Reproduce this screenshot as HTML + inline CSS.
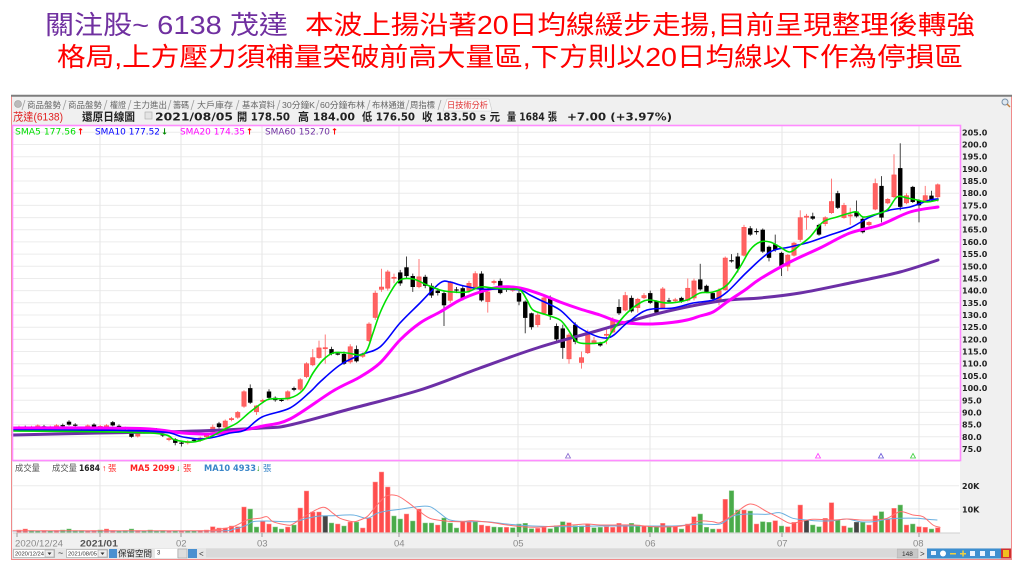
<!DOCTYPE html>
<html><head><meta charset="utf-8">
<style>
html,body{margin:0;padding:0;background:#fff;width:1023px;height:575px;overflow:hidden}
svg{display:block}
.cj{font-family:"Liberation Sans","Noto Sans CJK TC",sans-serif}
.dv{font-family:"DejaVu Sans","Noto Sans CJK TC",sans-serif}
</style></head>
<body>
<svg id="s" width="1023" height="575" viewBox="0 0 1023 575" xmlns="http://www.w3.org/2000/svg">
<rect width="1023" height="575" fill="#fff"/>
<g class="cj" font-size="26">
<text x="45" y="34" fill="#7030a0" textLength="243" lengthAdjust="spacingAndGlyphs">關注股~ 6138 茂達</text>
<text x="305" y="34" fill="#ff0000" textLength="670" lengthAdjust="spacingAndGlyphs">本波上揚沿著20日均線緩步走揚,目前呈現整理後轉強</text>
<text x="57" y="66" fill="#ff0000" textLength="906" lengthAdjust="spacingAndGlyphs">格局,上方壓力須補量突破前高大量區,下方則以20日均線以下作為停損區</text>
</g>
<rect x="11.5" y="95.5" width="1000" height="464" fill="#f0f0f0" stroke="#f08a8a" stroke-width="1"/>
<line x1="11" y1="95.8" x2="1012" y2="95.8" stroke="#7d7d7d" stroke-width="2"/>
<circle cx="18" cy="104" r="3.5" fill="#bbb" stroke="#999" stroke-width="0.6"/>
<path d="M443 111 L447 99 L489 99 L492 111 Z" fill="#fafafa" stroke="#c8c8c8" stroke-width="0.6"/>
<g stroke="#a0a0a0" stroke-width="0.8">
<line x1="63" y1="110" x2="66" y2="100"/><line x1="104" y1="110" x2="107" y2="100"/><line x1="128" y1="110" x2="131" y2="100"/><line x1="168" y1="110" x2="171" y2="100"/><line x1="191" y1="110" x2="194" y2="100"/><line x1="236" y1="110" x2="239" y2="100"/><line x1="277" y1="110" x2="280" y2="100"/><line x1="316" y1="110" x2="319" y2="100"/><line x1="367" y1="110" x2="370" y2="100"/><line x1="406" y1="110" x2="409" y2="100"/><line x1="438" y1="110" x2="441" y2="100"/><line x1="22" y1="110" x2="25" y2="100"/>
</g>
<g class="cj" font-size="8.5" fill="#666">
<text x="27" y="108" textLength="34" lengthAdjust="spacingAndGlyphs">商品盤勢</text>
<text x="68" y="108" textLength="34" lengthAdjust="spacingAndGlyphs">商品盤勢</text>
<text x="110" y="108" textLength="16" lengthAdjust="spacingAndGlyphs">權證</text>
<text x="133" y="108" textLength="34" lengthAdjust="spacingAndGlyphs">主力進出</text>
<text x="173" y="108" textLength="16" lengthAdjust="spacingAndGlyphs">籌碼</text>
<text x="197" y="108" textLength="36" lengthAdjust="spacingAndGlyphs">大戶庫存</text>
<text x="242" y="108" textLength="33" lengthAdjust="spacingAndGlyphs">基本資料</text>
<text x="282" y="108" textLength="33" lengthAdjust="spacingAndGlyphs">30分鐘K</text>
<text x="320" y="108" textLength="45" lengthAdjust="spacingAndGlyphs">60分鐘布林</text>
<text x="372" y="108" textLength="33" lengthAdjust="spacingAndGlyphs">布林通道</text>
<text x="410" y="108" textLength="25" lengthAdjust="spacingAndGlyphs">周指標</text>
<text x="447" y="108" fill="#e03030" textLength="41" lengthAdjust="spacingAndGlyphs">日技術分析</text>
</g>
<circle cx="1005" cy="102" r="3" fill="#dfe8f0" stroke="#7890a8" stroke-width="1"/>
<line x1="1007" y1="104" x2="1010" y2="107" stroke="#c08040" stroke-width="1.4"/>
<text class="cj" x="13" y="120.5" font-size="11" fill="#e02020" textLength="50" lengthAdjust="spacingAndGlyphs">茂達(6138)</text>
<g class="dv" font-size="11" font-weight="bold" fill="#222">
<text x="82" y="120.5" textLength="53" lengthAdjust="spacingAndGlyphs">還原日線圖</text>
<text x="155" y="120.5" textLength="78" lengthAdjust="spacingAndGlyphs">2021/08/05</text>
<text x="237" y="120.5" textLength="53" lengthAdjust="spacingAndGlyphs">開 178.50</text>
<text x="298" y="120.5" textLength="57" lengthAdjust="spacingAndGlyphs">高 184.00</text>
<text x="362" y="120.5" textLength="53" lengthAdjust="spacingAndGlyphs">低 176.50</text>
<text x="422" y="120.5" textLength="78" lengthAdjust="spacingAndGlyphs">收 183.50 s 元</text>
<text x="507" y="120.5" textLength="50" lengthAdjust="spacingAndGlyphs">量 1684 張</text>
<text x="567" y="120.5" textLength="105" lengthAdjust="spacingAndGlyphs">+7.00 (+3.97%)</text>
</g>
<rect x="145" y="112" width="7" height="7" fill="#e4e4e4" stroke="#aaa" stroke-width="0.6"/>
<rect x="13" y="126" width="947" height="334" fill="#fff"/>
<rect x="13" y="462" width="947" height="71" fill="#fff"/>
<g id="gen"></g>
<rect x="12.5" y="125.5" width="948" height="335" fill="none" stroke="#ff8cff" stroke-width="1.6"/>
<line x1="13" y1="533" x2="960" y2="533" stroke="#cfcfcf"/>
<g class="dv" font-size="8.5">
<text x="15" y="134.5" fill="#00dd00" textLength="61" lengthAdjust="spacingAndGlyphs">SMA5 177.56</text>
<text x="77" y="134.5" fill="#ff0000" font-weight="bold">↑</text>
<text x="95" y="134.5" fill="#0000ff" textLength="65" lengthAdjust="spacingAndGlyphs">SMA10 177.52</text>
<text x="161" y="134.5" fill="#008800" font-weight="bold">↓</text>
<text x="180" y="134.5" fill="#ff00ff" textLength="65" lengthAdjust="spacingAndGlyphs">SMA20 174.35</text>
<text x="246" y="134.5" fill="#ff0000" font-weight="bold">↑</text>
<text x="265" y="134.5" fill="#7030a0" textLength="65" lengthAdjust="spacingAndGlyphs">SMA60 152.70</text>
<text x="331" y="134.5" fill="#ff0000" font-weight="bold">↑</text>
</g>
<g class="dv" font-size="8" font-weight="bold" fill="#222">
<text x="962" y="135.3">205.0</text><text x="962" y="147.5">200.0</text><text x="962" y="159.7">195.0</text><text x="962" y="171.8">190.0</text><text x="962" y="184.0">185.0</text><text x="962" y="196.2">180.0</text><text x="962" y="208.4">175.0</text><text x="962" y="220.6">170.0</text><text x="962" y="232.7">165.0</text><text x="962" y="244.9">160.0</text><text x="962" y="257.1">155.0</text><text x="962" y="269.3">150.0</text><text x="962" y="281.5">145.0</text><text x="962" y="293.6">140.0</text><text x="962" y="305.8">135.0</text><text x="962" y="318.0">130.0</text><text x="962" y="330.2">125.0</text><text x="962" y="342.4">120.0</text><text x="962" y="354.5">115.0</text><text x="962" y="366.7">110.0</text><text x="962" y="378.9">105.0</text><text x="962" y="391.1">100.0</text><text x="962" y="403.3">95.0</text><text x="962" y="415.4">90.0</text><text x="962" y="427.6">85.0</text><text x="962" y="439.8">80.0</text><text x="962" y="452.0">75.0</text>
<text x="962" y="489">20K</text><text x="962" y="512.3">10K</text>
</g>
<g class="cj" font-size="8.5">
<text x="15" y="471" fill="#555" textLength="25" lengthAdjust="spacingAndGlyphs">成交量</text>
<text x="52" y="471" fill="#555" textLength="25" lengthAdjust="spacingAndGlyphs">成交量</text>
<text class="dv" x="79" y="471" fill="#222" font-weight="bold" textLength="21" lengthAdjust="spacingAndGlyphs">1684</text>
<text x="102" y="471" fill="#ff0000" font-weight="bold">↑</text>
<text x="108" y="471" fill="#ff3030">張</text>
<text class="dv" x="130" y="471" fill="#ff2020" font-weight="bold" textLength="45" lengthAdjust="spacingAndGlyphs">MA5 2099</text>
<text x="176" y="471" fill="#008800" font-weight="bold">↓</text>
<text x="183" y="471" fill="#ff3030">張</text>
<text class="dv" x="204" y="471" fill="#3a86c8" font-weight="bold" textLength="52" lengthAdjust="spacingAndGlyphs">MA10 4933</text>
<text x="256" y="471" fill="#008800" font-weight="bold">↓</text>
<text x="263" y="471" fill="#3a86c8">張</text>
</g>
<g stroke="#999" stroke-width="1">
<line x1="17" y1="533" x2="17" y2="537"/><line x1="100" y1="533" x2="100" y2="537"/><line x1="181" y1="533" x2="181" y2="537"/><line x1="262" y1="533" x2="262" y2="537"/><line x1="399" y1="533" x2="399" y2="537"/><line x1="518" y1="533" x2="518" y2="537"/><line x1="650" y1="533" x2="650" y2="537"/><line x1="782" y1="533" x2="782" y2="537"/><line x1="919" y1="533" x2="919" y2="537"/>
</g>
<g class="cj" font-size="9.5" fill="#8a8a8a">
<text x="15" y="546.5" textLength="48" lengthAdjust="spacingAndGlyphs">2020/12/24</text>
<text x="80" y="546.5" fill="#555" font-weight="bold" textLength="38" lengthAdjust="spacingAndGlyphs">2021/01</text>
<text x="176" y="546.5">02</text><text x="257" y="546.5">03</text><text x="394" y="546.5">04</text><text x="513" y="546.5">05</text><text x="645" y="546.5">06</text><text x="777" y="546.5">07</text><text x="913" y="546.5">08</text>
</g>
<rect x="12" y="548" width="999" height="11" fill="#e6e6e6"/>
<rect x="206" y="548.5" width="690" height="9" fill="#d9d9d9"/>
<rect x="13.5" y="549.5" width="41" height="8" fill="#fff" stroke="#999" stroke-width="0.6"/>
<rect x="45" y="550" width="9" height="7" fill="#eee" stroke="#999" stroke-width="0.5"/>
<path d="M47.5 552.5 L51.5 552.5 L49.5 555 Z" fill="#333"/>
<rect x="66.5" y="549.5" width="41" height="8" fill="#fff" stroke="#999" stroke-width="0.6"/>
<rect x="98" y="550" width="9" height="7" fill="#eee" stroke="#999" stroke-width="0.5"/>
<path d="M100.5 552.5 L104.5 552.5 L102.5 555 Z" fill="#333"/>
<g class="cj" font-size="5.5" fill="#333">
<text x="15" y="555.5" textLength="29" lengthAdjust="spacingAndGlyphs">2020/12/24</text>
<text x="68" y="555.5" textLength="29" lengthAdjust="spacingAndGlyphs">2021/08/05</text>
</g>
<text class="cj" x="58" y="556" font-size="9" fill="#333">~</text>
<rect x="109" y="549" width="8" height="9" fill="#4a90d0"/>
<rect x="188" y="549" width="9" height="9" fill="#4a90d0"/>
<text class="cj" x="118" y="556.5" font-size="8.5" fill="#222" textLength="34" lengthAdjust="spacingAndGlyphs">保留空間</text>
<rect x="155" y="549" width="22" height="9" fill="#fff"/>
<text class="cj" x="157" y="554.5" font-size="6" fill="#333">3</text>
<rect x="178" y="549" width="9" height="9" fill="#ddd" stroke="#999" stroke-width="0.5"/>
<text class="cj" x="199" y="556.5" font-size="8" fill="#333">&lt;</text>
<rect x="897" y="549" width="21" height="9" fill="#c8c8c8" stroke="#aaa" stroke-width="0.5"/>
<text class="cj" x="902" y="556" font-size="6.5" fill="#333">148</text>
<text class="cj" x="920" y="556.5" font-size="8" fill="#333">&gt;</text>
<rect x="927" y="548.5" width="74" height="10" fill="#3d8fd0"/>
<g fill="#e8f2ff"><rect x="931" y="551" width="5" height="4"/><circle cx="943" cy="553.5" r="3" fill="#fff"/><rect x="950" y="553" width="6" height="1.5" fill="#f0d040"/><rect x="960" y="553" width="6" height="1.5" fill="#f0d040"/><rect x="962.3" y="550.5" width="1.5" height="6" fill="#f0d040"/><rect x="970" y="551" width="5" height="5"/><rect x="980" y="551" width="5" height="5"/><rect x="990" y="551" width="5" height="5"/></g>
<rect x="1001" y="548.5" width="10" height="10" fill="#d03030"/>
<rect x="1003" y="550" width="6" height="7" fill="#f0c020"/>
</svg>
<script>
(function(){
const Y=p=>132.3+(205-p)*2.436, X=i=>19+6.25*i;
let s='';
for(let p=75;p<=205;p+=5){const y=Y(p).toFixed(1);s+=`<line x1="13" y1="${y}" x2="959" y2="${y}" stroke="#ececec" stroke-width="1"/>`;}
[485.7,509].forEach(y=>{s+=`<line x1="13" y1="${y}" x2="959" y2="${y}" stroke="#ececec" stroke-width="1"/>`;});
[100,181,262,399,518,650,782,919].forEach(x=>{s+=`<line x1="${x}" y1="126" x2="${x}" y2="533" stroke="#e6e6e6" stroke-width="1"/>`;});
const C=[[0,83.5,84],[1,84,83.6],[2,83.8,83.9],[3,84,84.5],[4,84.3,83.8],[5,83.8,84],[6,84,84.6],[7,84.8,84.4],[8,86.2,85,86.8,84.6],[9,85,84.5],[10,83,82],[11,83.5,84.5],[12,85,84],[13,84,84.3],[14,84,84.6],[15,86,84.7,86.5,84.3],[16,84.5,84.2],[17,83.5,83],[18,82.3,80,82.8,79.6],[19,80.3,81.8],[20,81.8,82],[21,83,82.5],[22,83,82],[23,81,80.5],[24,78.8,79.3],[25,79,77.5,79.5,76.5],[26,77.6,77.5,78,76],[27,77.5,78],[28,78.8,78.3],[29,78.5,79.5],[30,80,81],
[31,82,84,85,81.5],[32,85.5,84],[33,84,86.5],[34,87,87.5],[35,88,90],[36,92.5,98.5],[37,100,94,101.5,93.5],[38,90.3,92.7,93,89],[39,94.5,95],[40,98.6,96,99.5,95.5],[41,96,95],[42,95.2,95],[43,95.5,98.5],[44,100,99.3],[45,99.5,103.5],[46,104.7,110],[47,109.5,112.5,116,109],[48,112.5,116.5,119.5,112],[49,116.5,116.6,122,110],[50,116,114,117,113.5],[51,114.2,114],[52,114,110,115,109.5],[53,110.7,117,118,110],[54,116,111,117.5,110.5],[55,113,114],[56,119.5,126.3,127,119],[57,129,139,140,128],[58,140.5,141.5,149,139.5],[59,141,147.7,148.5,140],[60,145,145.5,147,143],[61,147.5,143,148.5,142],[62,149.6,146,154,145],[63,146,141.5,147,139.5],[64,141.6,145.7,153,141],[65,145.7,142,146.5,141],[66,142,138,143,137],[67,140,139,141,138],[68,139,134,140,125.5],[69,136,143.5,144,135],[70,140.5,140,141.5,139],[71,141,137,142,136],[72,140,143,144,139],[73,141.5,147,148,141],[74,147,136,148,135.5],[75,135.5,139.5,140,131],[76,143.3,143.8,144.5,142.5],[77,144,139,145,138.5],[78,141,140.5,142,139.5],[79,140.5,140.6,142,139.5],[80,139,135.5,140,134],[81,135.5,128.8,136,122.5],[82,130.7,125,131,124],[83,126,130,131,125],[84,130.7,137,138,130],[85,137,130,138,128],[86,125.5,120,126.5,119],[87,124.5,116.5,126,112],[88,112,121.8,122.5,110],[89,126,119,127,118],[90,110.5,112.5,115,108],[91,114.5,123,124,114],[92,118.5,119.5,121,118],[93,118.6,117.5,119,117],[94,122,122.1,124,118],[95,123,128,129,122.5],[96,133.3,130.7,136.5,130],[97,132,138,139.5,131.5],[98,137,131.5,138,131],[99,133,136.5,137,131],[100,137,138,139,136.5],[101,139,135,140,134.5],[102,135.6,131,136,130.5],[103,133,140.7,141.5,132.5],[104,136,135.5,137,135],[105,135.8,136.3,137,135.3],[106,137,135.5,137.5,135],[107,136,141,145,135.5],[108,137,144,145,136],[109,144.6,140.5,151,140],[110,142,139.5,142.5,139],[111,139,136.6,139.5,136],[112,135.6,140,141,134],[113,140.3,153.4,154,140],[114,152.5,152,155,151.5],[115,154,149,155.5,147.5],[116,154.5,166,167,154],[117,165.6,163,166.5,162.5],[118,164.5,164,165.5,163],[119,165,156,165.5,155.5],[120,158,153.5,158.5,152],[121,159,156.7,163,156],[122,155.5,150,156,146],[123,150,154.6,155,148],[124,154.5,159.5,160,154],[125,161,170,173,160],[126,170.5,170.6,171.5,165],[127,170.5,169.5,172,169],[128,167,163,167.5,162.5],[129,167.5,170,170.5,166.5],[130,172,176.6,186,171.5],[131,180,174,181,173.5],[132,170,175,176,169.5],[133,171,171.1,174,167],[134,172.5,170.5,177,170],[135,169.5,164,170,163.5],[136,167,168,168.5,166.5],[137,173.5,184,186,173],[138,183,170,187,168],[139,176,177.5,178,175.5],[140,178.5,187.5,196,178],[141,190.3,174.4,200.5,173],[142,176,179,180,175.5],[143,182.6,176.4,183,176],[144,177,175,177.5,168],[145,176.4,179,183,176],[146,179,177,181,176.5],[147,178.5,183.5,184,176.5]];
C.forEach(a=>{let [i,o,c,h,l]=a;const x=X(i);if(h===undefined){h=Math.max(o,c)+0.6;l=Math.min(o,c)-0.6;}
const up=c>=o;const t=Y(Math.max(o,c)),b=Y(Math.min(o,c));const hh=Math.max(b-t,1.2);
s+=`<line x1="${x.toFixed(2)}" y1="${Y(h).toFixed(1)}" x2="${x.toFixed(2)}" y2="${Y(l).toFixed(1)}" stroke="${up?'#ff7a7a':'#444'}" stroke-width="1"/>`;
s+=`<rect x="${(x-2.2).toFixed(2)}" y="${t.toFixed(1)}" width="4.4" height="${hh.toFixed(1)}" fill="${up?'#ff6262':'#000'}"${up?' stroke="#ff4a4a" stroke-width="0.5"':''}/>`;});
const pl=(pts,col,w)=>{let d=`M${pts[0][0]},${pts[0][1]}`;for(let i=0;i<pts.length-1;i++){const p0=pts[i-1]||pts[i],p1=pts[i],p2=pts[i+1],p3=pts[i+2]||p2;const c1x=p1[0]+(p2[0]-p0[0])/6,c1y=p1[1]+(p2[1]-p0[1])/6,c2x=p2[0]-(p3[0]-p1[0])/6,c2y=p2[1]-(p3[1]-p1[1])/6;d+=` C${c1x.toFixed(1)},${c1y.toFixed(1)} ${c2x.toFixed(1)},${c2y.toFixed(1)} ${p2[0]},${p2[1]}`;}return `<path d="${d}" fill="none" stroke="${col}" stroke-width="${w}" stroke-linecap="round" stroke-linejoin="round"/>`;};
const s60=[[13,435],[100,433],[181,431.5],[262,428],[290,425],[350,409],[420,390],[480,368],[540,347],[600,330],[660,313],[720,301],[760,298],[800,293],[850,283],[900,272],[938,260]];
const s20=[[13,428],[100,428],[150,429],[183,433],[210,434],[237,431],[263,426],[290,419],[333,391],[360,377],[380,363],[400,340],[420,323],[440,312],[460,300],[480,292],[500,287],[520,288],[540,294],[560,302],[580,309],[600,315],[620,322],[645,324],[667,323],[687,320],[700,316],[713,312],[727,302],[745,290],[760,279],[790,262],[820,248],[850,233],[880,225],[910,212],[938,207]];
const s10=[[13,430],[150,431],[183,437],[200,439],[215,437],[230,433],[245,430],[262,417],[290,408],[310,392],[320,382],[340,365],[360,355],[380,347],[400,323],[420,303],[440,283],[450,282],[460,285],[480,289],[500,289],[520,290],[530,295],[540,300],[560,310],[580,328],[607,338],[627,323],[647,310],[673,308],[693,303],[713,300],[727,292],[747,272],[770,252],[790,247],[810,242],[830,235],[850,228],[870,217],[890,210],[910,207],[930,200],[938,199]];
const s5=[[13,431],[150,433],[175,440],[193,442],[210,437],[225,429],[237,423],[250,412],[262,403],[270,399],[290,398],[303,390],[313,373],[323,360],[333,353],[347,353],[360,355],[367,350],[373,333],[380,313],[390,293],[400,280],[413,279],[427,285],[440,290],[453,292],[467,292],[480,287],[493,288],[507,289],[520,290],[527,300],[533,310],[547,315],[560,320],[567,328],[573,337],[580,343],[600,343],[607,340],[613,330],[627,313],[640,303],[650,300],[667,303],[687,300],[700,293],[713,292],[727,285],[740,267],[750,250],[760,242],[770,242],[780,247],[790,252],[800,245],[810,237],[823,222],[837,217],[850,213],[857,212],[863,217],[873,215],[887,210],[897,197],[907,198],[917,200],[927,202],[938,200]];
s+=pl(s60,'#6c2fa6',3)+pl(s20,'#ff00ff',3)+pl(s10,'#0000ff',1.6)+pl(s5,'#00e000',1.6);
[[568,'#8a6ad0'],[818,'#ff40ff'],[881,'#6a5ad8'],[913,'#40d040']].forEach(([x,c])=>{s+=`<polygon points="${x-2.5},458 ${x},453.5 ${x+2.5},458" fill="none" stroke="${c}" stroke-width="0.8"/>`;});
const V=[[530,'r'],[529,'r'],[530.5,'g'],[531,'g'],[530.5,'r'],[531,'g'],[530.5,'r'],[530,'g'],[529,'g'],[530.5,'g'],[530.5,'g'],[531,'r'],[530.5,'r'],[530,'g'],[529,'r'],[530.5,'r'],[531,'g'],[530.5,'g'],[529,'g'],[530.5,'r'],[531,'g'],[530,'g'],[531,'g'],[530.5,'g'],[531,'r'],[531,'g'],[531,'r'],[531,'g'],[531,'g'],[530.5,'r'],[530,'r'],
[526.7,'r'],[528,'r'],[528,'r'],[526,'r'],[526.7,'r'],[507,'r'],[509,'g'],[527,'g'],[521,'r'],[524,'r'],[527,'g'],[529,'g'],[527,'r'],[525,'g'],[508,'r'],[491,'r'],[512,'r'],[512,'r'],[516,'k'],[523,'g'],[524,'r'],[526,'g'],[522,'r'],[522,'g'],[528,'r'],[518,'r'],[482,'r'],[472,'r'],[487,'r'],[516,'g'],[519,'g'],[514,'r'],[521,'g'],[509,'r'],[523,'g'],[523,'g'],[525,'r'],[518,'g'],[523,'g'],[528,'g'],[521,'r'],[521,'r'],[521,'g'],[525,'r'],[526,'r'],[527,'g'],[527.3,'g'],[527.3,'r'],[527.7,'g'],[524,'g'],[523.3,'g'],[528.7,'g'],[528.3,'r'],[527.3,'r'],[528.7,'g'],[525.7,'g'],[521.7,'g'],[522.7,'r'],[525.7,'g'],[526,'g'],[524.3,'r'],[527.7,'g'],[527.3,'g'],[526.7,'r'],[527.3,'r'],[523.3,'r'],[525,'r'],[523.3,'g'],[525,'g'],[526,'r'],[526,'g'],[526.7,'g'],[523.3,'r'],[526,'g'],[526,'r'],[529,'g'],[524,'r'],[516.7,'r'],[514,'g'],[527.3,'g'],[529,'g'],[529,'r'],[499.3,'r'],[490.7,'g'],[510,'g'],[510,'r'],[511,'g'],[524,'r'],[521.7,'g'],[522.3,'g'],[520.7,'r'],[526,'g'],[526.7,'r'],[522.3,'r'],[505,'r'],[520,'k'],[525,'g'],[526.7,'g'],[518.3,'r'],[502.7,'r'],[520,'g'],[526,'r'],[527.7,'g'],[522.3,'k'],[522.3,'g'],[525,'r'],[515.7,'r'],[511.7,'g'],[519,'r'],[508.3,'r'],[505,'g'],[525,'r'],[524,'g'],[526.7,'r'],[527.3,'r'],[529,'g'],[527.7,'r']];
V.forEach(([t,c],i)=>{const x=X(i);const f=c==='r'?'#ff4d4d':c==='g'?'#4aab4a':'#444';const st=c==='r'?'#ff9a9a':c==='g'?'#8fd08f':'#777';
s+=`<rect x="${(x-2.3).toFixed(2)}" y="${t}" width="4.6" height="${(532.5-t).toFixed(1)}" fill="${f}" stroke="${st}" stroke-width="0.5"/>`;});
const v5=[[13,530.7],[207,530.7],[213,530],[233,526.7],[247,520],[260,518.3],[267,516.7],[273,521.7],[287,525],[293,524],[307,515],[323,507.3],[333,513.3],[340,518.3],[353,521.7],[360,520],[367,516.7],[373,510],[380,501.7],[387,495.7],[397,495.7],[407,501.7],[420,511.7],[430,518.3],[443,520.7],[460,521.7],[473,520.7],[493,522.7],[507,525],[533,527.3],[567,525.3],[587,524],[600,525],[633,525],[653,526.7],[673,526.7],[687,525],[700,521],[713,521.7],[720,522.7],[733,515],[750,504],[767,511.7],[780,518.3],[790,523.3],[800,521.7],[813,519.3],[833,520],[847,519],[860,520],[873,520],[887,518.3],[900,511.7],[913,515],[923,516.7],[933,525],[940,527.3]];
const v10=[[13,531],[207,531],[233,529.3],[247,525],[253,521.7],[267,521],[293,521.7],[307,518.3],[320,516],[333,515.7],[353,515],[367,518.3],[377,513.3],[387,511],[400,509.3],[417,506.7],[430,506.7],[440,513.3],[450,520],[467,521.7],[487,521.7],[507,524],[533,526],[567,526.7],[600,526],[667,526],[687,525],[700,524],[720,524],[733,516],[747,514],[767,514.3],[780,512.7],[793,518.3],[807,520],[820,521],[833,520.7],[847,519],[860,521.7],[873,521.7],[887,519.3],[900,518.3],[917,518.3],[927,519.3],[937,520]];
s+=pl(v10,'#6ab0e0',1)+pl(v5,'#ff7070',1);
document.getElementById('gen').innerHTML=s;
})();
</script>
</body></html>
